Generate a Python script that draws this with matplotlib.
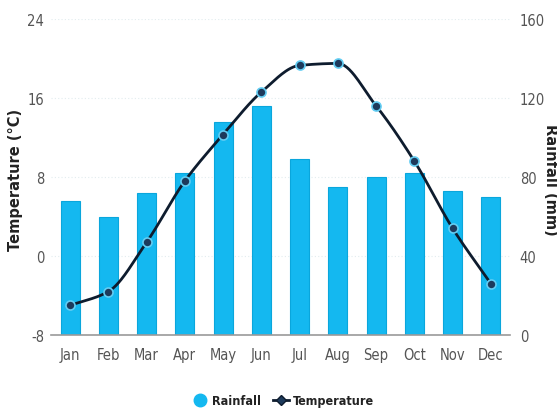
import numpy as np
import matplotlib
matplotlib.use("Agg")
import matplotlib.pyplot as plt
from matplotlib.lines import Line2D

months = ["Jan", "Feb", "Mar", "Apr", "May", "Jun",
          "Jul", "Aug", "Sep", "Oct", "Nov", "Dec"]
rainfall_mm = [68, 60, 72, 82, 108, 116, 89, 75, 80, 82, 73, 70]
temperature_c = [-5.0, -3.6, 1.4, 7.6, 12.3, 16.6, 19.3, 19.5, 15.2, 9.6, 2.8, -2.8]
temp_ticks = [-8, 0, 8, 16, 24]
rain_ticks = [0, 40, 80, 120, 160]

plt.rcParams["font.family"] = ["DejaVu Sans"]
plt.rcParams["font.stretch"] = "condensed"
plt.rcParams["axes.unicode_minus"] = False

BAR = "#14b8f0"
BAR_EDGE = "#0aa6dc"
LINE = "#0e1c2e"
TICK = "#555555"


def monotone_curve(x, y, samples=30):
    """Fritsch-Carlson monotone cubic Hermite curve through (x, y)."""
    x = np.asarray(x, float)
    y = np.asarray(y, float)
    h = np.diff(x)
    d = np.diff(y) / h
    m = np.zeros_like(y)
    m[0], m[-1] = d[0], d[-1]
    for i in range(1, len(y) - 1):
        if d[i - 1] * d[i] <= 0:
            m[i] = 0.0
        else:
            w1 = 2 * h[i] + h[i - 1]
            w2 = h[i] + 2 * h[i - 1]
            m[i] = (w1 + w2) / (w1 / d[i - 1] + w2 / d[i])
    xs, ys = [], []
    for i in range(len(x) - 1):
        t = np.linspace(0, 1, samples, endpoint=(i == len(x) - 2))
        h00 = 2 * t**3 - 3 * t**2 + 1
        h10 = t**3 - 2 * t**2 + t
        h01 = -2 * t**3 + 3 * t**2
        h11 = t**3 - t**2
        xs.append(x[i] + t * h[i])
        ys.append(h00 * y[i] + h10 * h[i] * m[i] + h01 * y[i + 1] + h11 * h[i] * m[i + 1])
    return np.concatenate(xs), np.concatenate(ys)


fig = plt.figure(figsize=(5.57, 4.10), dpi=100)
ax_t = fig.add_axes([51 / 557, 74 / 410, 459 / 557, 316 / 410])
ax_r = ax_t.twinx()

x = np.arange(len(months))

# Faint horizontal guides behind the bars
for v in rain_ticks[1:]:
    ax_r.axhline(v, color="#e2ecef", linewidth=0.8, linestyle=(0, (1, 2)), zorder=0)

# Rainfall bars on the right-hand axis
ax_r.bar(x, rainfall_mm, width=0.5, color=BAR, edgecolor=BAR_EDGE,
         linewidth=0.8, zorder=2)
ax_r.set_ylim(rain_ticks[0], rain_ticks[-1])
ax_r.set_yticks(rain_ticks)

# Temperature line on the left-hand axis, drawn above the bars
ax_t.set_zorder(ax_r.get_zorder() + 1)
ax_t.patch.set_visible(False)
cx, cy = monotone_curve(x, temperature_c)
ax_t.plot(cx, cy, color=LINE, linewidth=2.0, solid_capstyle="round", zorder=3)
ax_t.plot(x, temperature_c, linestyle="none", marker="o", markersize=6.5,
          markerfacecolor="#1d3a5c", markeredgecolor="#62cdf3",
          markeredgewidth=1.2, zorder=4)
ax_t.set_ylim(temp_ticks[0], temp_ticks[-1])
ax_t.set_yticks(temp_ticks)
ax_t.set_xlim(-0.5, len(months) - 0.5)
ax_t.set_xticks(x)
ax_t.set_xticklabels(months)

for a in (ax_t, ax_r):
    for s in a.spines.values():
        s.set_visible(False)
    a.tick_params(axis="both", length=0, labelsize=10.5, colors=TICK)
ax_t.spines["bottom"].set_visible(True)
ax_t.spines["bottom"].set_color("#9a9a9a")
ax_t.spines["bottom"].set_linewidth(1.2)
ax_t.tick_params(axis="y", pad=5)
ax_t.tick_params(axis="x", pad=9)
ax_r.tick_params(axis="y", pad=7)

# Axis titles
fig.text(16 / 557, 1 - 180 / 410, "Temperature (°C)", rotation=90,
         ha="center", va="center", fontsize=10.5, fontweight="bold",
         fontstretch="normal", color="#222222")
fig.text(551 / 557, 1 - 180 / 410, "Rainfall (mm)", rotation=270,
         ha="center", va="center", fontsize=10.5, fontweight="bold",
         fontstretch="normal", color="#222222")

handles = [
    Line2D([], [], linestyle="none", marker="o", markersize=9,
           markerfacecolor=BAR, markeredgecolor=BAR),
    Line2D([], [], color=LINE, linewidth=2, marker="D", markersize=5,
           markerfacecolor="#1d3a5c", markeredgecolor=LINE),
]
fig.legend(handles, ["Rainfall", "Temperature"], loc="center",
           bbox_to_anchor=(283 / 557, 8 / 410), ncol=2, frameon=False,
           prop={"size": 9, "weight": "bold", "stretch": "condensed"},
           handlelength=1.3, columnspacing=1.0, handletextpad=0.3,
           labelcolor="#222222")

fig.savefig("out.png", dpi=100)
